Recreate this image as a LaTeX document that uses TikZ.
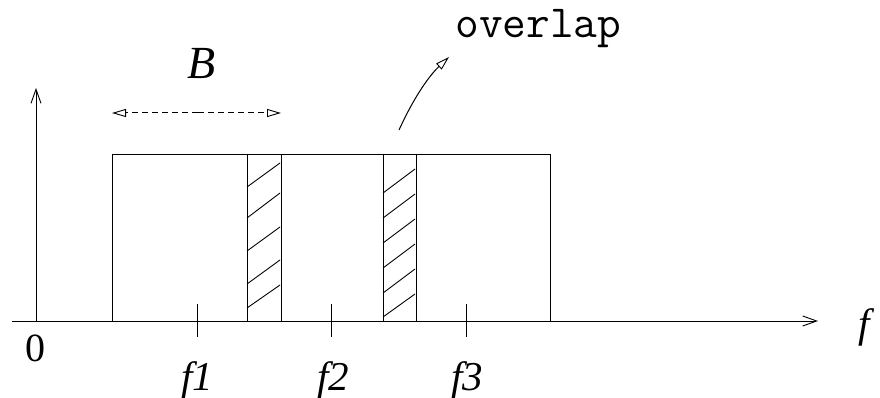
\documentclass[tikz,border=0pt]{standalone}
\usepackage{fontspec}
\setmainfont{Liberation Serif}
\usetikzlibrary{arrows.meta}
\begin{document}
\begin{tikzpicture}[x=1pt,y=-1pt,line width=1pt,
  axisarrow/.style={-{Straight Barb[length=14pt,width=10pt,line width=0.9pt]}},
  openhead/.style={-{Triangle[open,length=14pt,width=8pt,line width=0.9pt]}},
  mathlbl/.style={font=\fontsize{41}{48}\selectfont\itshape, inner sep=0pt},
  hatch/.style={line width=0.9pt}]
\useasboundingbox (0,0) rectangle (880,398);
% axes
\coordinate (origin) at (36,321);
\coordinate (ytop) at (36,88);
\coordinate (xleft) at (12,321);
\coordinate (xright) at (818,321);
\draw[axisarrow] (origin) -- (ytop);
\draw[axisarrow] (xleft) -- (xright);
% spectrum boxes
\draw (112,321) -- (112,155) -- (550,155) -- (550,321);
\draw (247,155) -- (247,321);
\draw (281,155) -- (281,321);
\draw (383,155) -- (383,321);
\draw (416,155) -- (416,321);
% hatching left strip
\foreach \a/\b in {187/163, 218/193, 251/227, 284/260, 308/285}
  \draw[hatch] (247,\a) -- (280,\b);
% hatching right strip
\foreach \a/\b in {193/169, 218/194, 243/219, 268/244, 293/269, 317/294}
  \draw[hatch] (383,\a) -- (415,\b);
% ticks
\draw (197,304) -- (197,337);
\draw (331,304) -- (331,337);
\draw (466,304) -- (466,337);
% labels
\node[font=\fontsize{40}{46}\selectfont, inner sep=0pt] (zero) at (35,348) {0};
\node[mathlbl, anchor=base] (f1) at (197,390) {f1};
\node[mathlbl, anchor=base] (f2) at (333,390) {f2};
\node[mathlbl, anchor=base] (f3) at (467,390) {f3};
\node[mathlbl] (f) at (864,327) {f};
\node[mathlbl, font=\fontsize{46}{52}\selectfont\itshape] (B) at (202,64) {B};
% bandwidth arrow
\coordinate (bl) at (112,113);
\coordinate (br) at (281,113);
\draw[dashed, dash pattern=on 6pt off 4pt, openhead] (198,113) -- (br);
\draw[dashed, dash pattern=on 6pt off 4pt, openhead] (198,113) -- (bl);
% overlap
\node[font=\fontsize{46}{52}\selectfont\ttfamily, inner sep=0pt, anchor=base west] (ov) at (455,38) {overlap};
\coordinate (ovs) at (399,130);
\coordinate (ove) at (449,57);
\draw[openhead] (ovs) .. controls (415,95) and (430,75) .. (ove);
\end{tikzpicture}
\end{document}
